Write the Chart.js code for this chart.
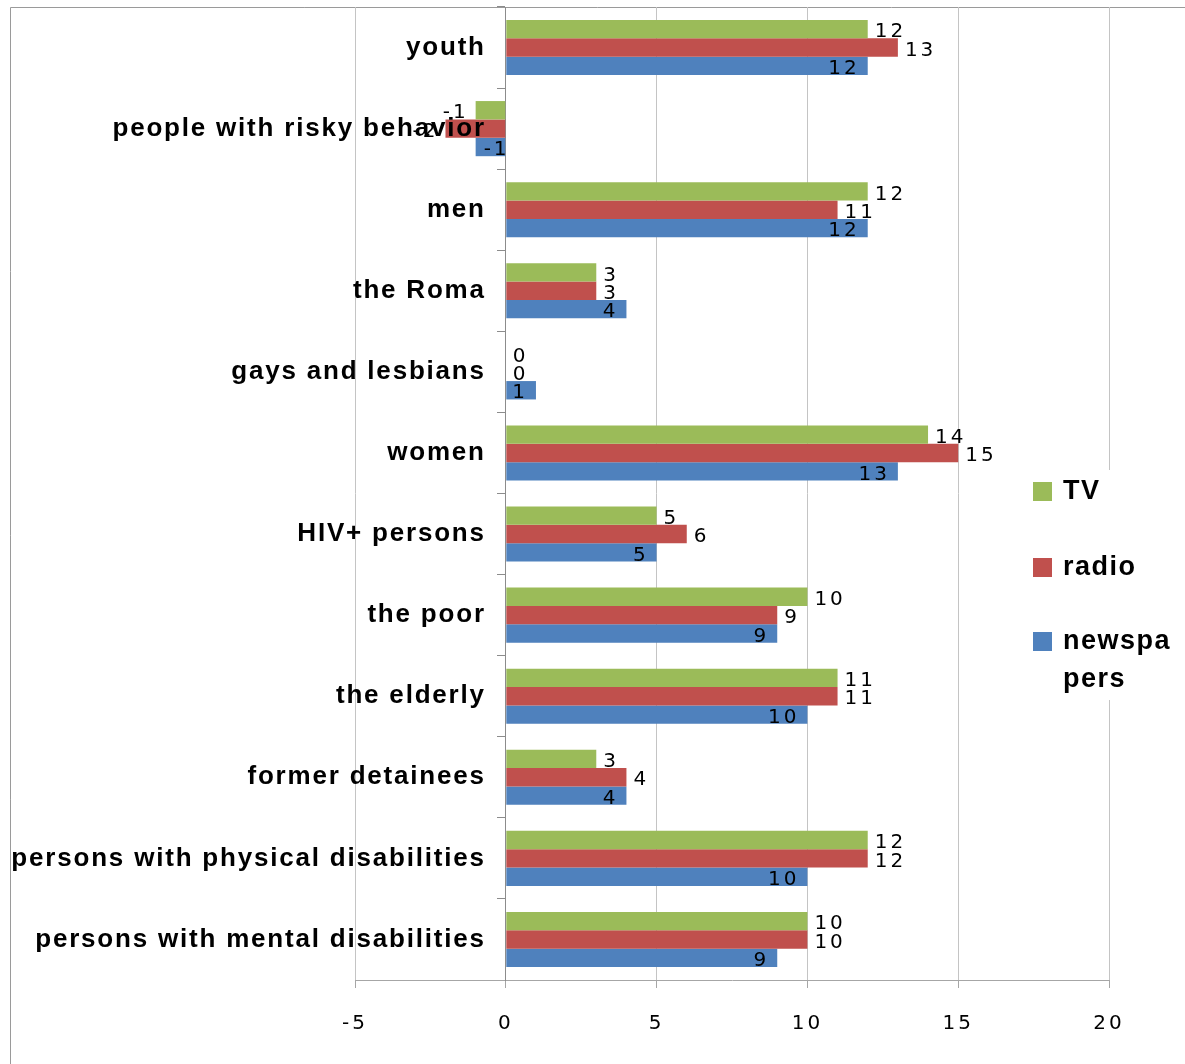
<!DOCTYPE html>
<html>
<head>
<meta charset="utf-8">
<script src="https://cdn.jsdelivr.net/npm/chart.js@4"></script>
<style>html,body{margin:0;padding:0;background:#fff;}</style>
</head>
<body>
<canvas id="chart" width="1185" height="1064"></canvas>
<script>
// data, top to bottom
const categories = ['youth', 'people with risky behavior', 'men', 'the Roma', 'gays and lesbians', 'women',
  'HIV+ persons', 'the poor', 'the elderly', 'former detainees',
  'persons with physical disabilities', 'persons with mental disabilities'];
const tvValues        = [12, -1, 12, 3, 0, 14, 5, 10, 11, 3, 12, 10];
const radioValues     = [13, -2, 11, 3, 0, 15, 6, 9, 11, 4, 12, 10];
const newspaperValues = [12, -1, 12, 4, 1, 13, 5, 9, 10, 4, 10, 9];
const seriesNames  = ['TV', 'radio', 'newspapers'];
const seriesColors = ['#9BBB59', '#C0504D', '#4F81BD'];
const xTicks = [-5, 0, 5, 10, 15, 20];

// frame round the chart + letter spacing like the old office render
const frame = {
  id: 'frame',
  beforeDraw(chart) {
    const ctx = chart.ctx;
    ctx.save();
    ctx.strokeStyle = '#9a9a9a'; ctx.lineWidth = 1;
    ctx.beginPath();
    ctx.moveTo(10.5, 1064); ctx.lineTo(10.5, 7.5); ctx.lineTo(1185, 7.5);
    ctx.stroke();
    ctx.restore();
    ctx.letterSpacing = '3px';
  }
};

// value labels next to bar ends (green/red outside, blue inside)
const barValues = {
  id: 'barValues',
  afterDatasetsDraw(chart) {
    const ctx = chart.ctx;
    ctx.save();
    ctx.font = '20px "DejaVu Sans"';
    ctx.letterSpacing = '3px';
    ctx.fillStyle = '#000';
    ctx.textBaseline = 'middle';
    chart.data.datasets.forEach((ds, di) => {
      const meta = chart.getDatasetMeta(di);
      meta.data.forEach((bar, i) => {
        const v = ds.data[i];
        const dir = v < 0 ? -1 : 1;
        let x;
        if (di < 2) { x = bar.x + dir * 7; ctx.textAlign = dir > 0 ? 'left' : 'right'; }
        else { x = bar.x - dir * 8; ctx.textAlign = dir > 0 ? 'right' : 'left'; }
        ctx.fillText(String(v), x, bar.y + 3);
      });
    });
    ctx.restore();
  }
};

// category names, right-aligned left of the zero axis
const categoryLabels = {
  id: 'categoryLabels',
  afterDatasetsDraw(chart) {
    const ctx = chart.ctx;
    const yScale = chart.scales.y;
    const x0 = chart.scales.x.getPixelForValue(0);
    ctx.save();
    ctx.font = 'bold 26px "Liberation Sans", Arial';
    ctx.letterSpacing = '1.8px';
    ctx.fillStyle = '#000';
    ctx.textAlign = 'right';
    ctx.textBaseline = 'middle';
    chart.data.labels.forEach((lb, i) => ctx.fillText(lb, x0 - 20, yScale.getPixelForValue(i)));
    ctx.restore();
  }
};

// legend on the right, over the plot like in the original
const sideLegend = {
  id: 'sideLegend',
  afterDraw(chart) {
    const ctx = chart.ctx;
    const ys = [492, 568, 642];
    ctx.save();
    ctx.fillStyle = '#fff';
    ctx.fillRect(1020, 470, 165, 230);
    ctx.font = 'bold 27px "Liberation Sans", Arial';
    ctx.letterSpacing = '1.5px';
    ctx.textBaseline = 'middle';
    seriesNames.forEach((name, i) => {
      ctx.fillStyle = seriesColors[i];
      ctx.fillRect(1033, ys[i] - 10, 19, 19);
      ctx.fillStyle = '#000';
      const lines = []; let cur = '';
      for (const ch of name) {
        if (cur && ctx.measureText(cur + ch).width > 118) { lines.push(cur); cur = ch; }
        else cur += ch;
      }
      lines.push(cur);
      lines.forEach((ln, k) => ctx.fillText(ln, 1063, ys[i] + k * 38));
    });
    ctx.restore();
  }
};

new Chart(document.getElementById('chart'), {
  type: 'bar',
  data: {
    labels: categories,
    datasets: [
      { label: seriesNames[0], data: tvValues, backgroundColor: seriesColors[0] },
      { label: seriesNames[1], data: radioValues, backgroundColor: seriesColors[1] },
      { label: seriesNames[2], data: newspaperValues, backgroundColor: seriesColors[2] }
    ]
  },
  options: {
    indexAxis: 'y',
    responsive: false,
    animation: false,
    datasets: { bar: { categoryPercentage: 0.68, barPercentage: 1.0 } },
    layout: { padding: { left: 355, right: 76, top: 7, bottom: 0 } },
    scales: {
      x: {
        min: -5, max: 20,
        afterBuildTicks: s => { s.ticks = xTicks.map(v => ({ value: v })); },
        afterFit: s => { s.height = 84; s.paddingLeft = 0; s.paddingRight = 0; },
        grid: { color: '#c4c4c4', tickColor: '#a6a6a6', tickLength: 8 },
        border: { color: '#a6a6a6' },
        ticks: { color: '#000', padding: 24, font: { family: '"DejaVu Sans"', size: 20 } }
      },
      y: {
        position: { x: 0 },
        afterFit: s => { s.paddingTop = 0; s.paddingBottom = 0; },
        grid: { drawOnChartArea: false, offset: true, tickLength: 8, tickColor: '#8c8c8c' },
        border: { color: '#8c8c8c' },
        ticks: { display: false }
      }
    },
    plugins: { legend: { display: false }, tooltip: { enabled: false } }
  },
  plugins: [frame, barValues, categoryLabels, sideLegend]
});
</script>
</body>
</html>
